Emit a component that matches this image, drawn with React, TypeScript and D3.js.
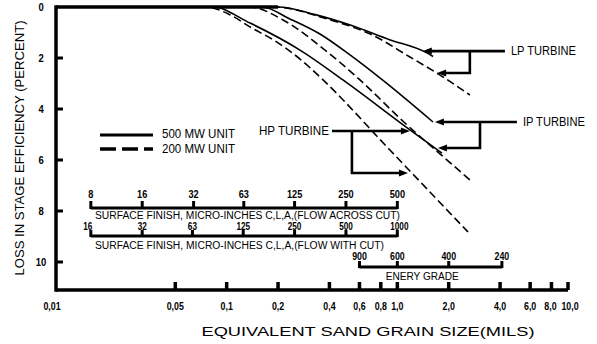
import React from "react";
import * as d3 from "d3";

type Pt = [number, number];

// ---- axis ticks & labels ----
const lossTicks = [0, 2, 4, 6, 8, 10];
const lossTickLabels = ["0", "2", "4", "6", "8", "10"];
const sizeTicks = [0.05, 0.1, 0.2, 0.4, 0.6, 0.8, 1.0, 2.0, 4.0, 6.0, 8.0, 10.0];
const sizeLabelValues = [0.01, 0.05, 0.1, 0.2, 0.4, 0.6, 0.8, 1.0, 2.0, 4.0, 6.0, 8.0, 10.0];
const sizeLabelTexts = ["0,01", "0,05", "0,1", "0,2", "0,4", "0,6", "0,8", "1,0", "2,0", "4,0", "6,0", "8,0", "10,0"];

// ---- auxiliary scales ----
const finishAcross = [8, 16, 32, 63, 125, 250, 500]; // micro-inches, mils = Ra/500
const finishWith = [16, 32, 63, 125, 250, 500, 1000]; // micro-inches, mils = Ra/1000
const emeryGrades = ["900", "600", "400", "240"];
const emeryGradeMils = [0.6, 1.0, 2.0, 4.1];

// ---- curves: [grain size (mils), loss (%)] ----
const lp500: Pt[] = [[0.01, 0], [0.2, 0], [0.33, 0.3], [0.53, 0.71], [0.9, 1.28], [1.45, 1.76], [1.62, 1.94]];
const lp200: Pt[] = [[0.01, 0], [0.19, 0], [0.4, 0.5], [0.69, 1.05], [1.185, 1.96], [1.78, 2.67], [2.66, 3.45]];
const ip500: Pt[] = [[0.01, 0], [0.161, 0], [0.235, 0.47], [0.352, 1.06], [0.528, 1.88], [0.846, 2.94], [1.617, 4.51]];
const ip200: Pt[] = [[0.01, 0], [0.137, 0], [0.214, 0.51], [0.377, 1.69], [0.604, 2.86], [1.108, 4.55], [1.729, 5.69], [2.663, 6.78]];
const hp500: Pt[] = [[0.01, 0], [0.083, 0], [0.137, 0.63], [0.269, 1.69], [0.48, 2.86], [1.185, 4.82], [1.825, 5.73]];
const hp200: Pt[] = [[0.01, 0], [0.075, 0], [0.105, 0.31], [0.137, 0.78], [0.192, 1.33], [0.269, 2.04], [0.367, 2.86], [0.905, 5.61], [2.592, 8.82]];

const solidSeries = [lp500, ip500, hp500];
const dashedSeries = [lp200, ip200, hp200];

// ---- annotations (positions in data units) ----
const annLabels = ["LP TURBINE", "IP TURBINE", "HP TURBINE"];
const annTips: Pt[][] = [
  [[1.41, 1.73], [1.71, 2.59]],
  [[1.66, 4.51], [1.73, 5.53]],
  [[1.185, 4.86], [1.154, 6.51]],
];
const annElbow = [2.66, 3.05, 0.542];
const annLineEnd = [4.27, 5.02, 0.414];
const annLabelLen = [65, 62, 70];

const legendLabels = ["500 MW UNIT", "200 MW UNIT"];

const FONT = "'Liberation Sans', Arial, Helvetica, sans-serif";
const W = 597;
const H = 344;

export default function App() {
  const x = d3.scaleLog().domain([0.01, 10]).range([56, 568]);
  const y = d3.scaleLinear().domain([0, 10]).range([7, 262]);
  const yAxis = 290;
  const line = d3
    .line<Pt>()
    .x((d) => x(d[0]))
    .y((d) => y(d[1]))
    .curve(d3.curveMonotoneX);

  const arrow = (tx: number, ty: number, dir: number, key: string) => (
    <path
      key={key}
      d={`M${tx},${ty} L${tx + dir * 9},${ty - 3.5} L${tx + dir * 9},${ty + 3.5} Z`}
      fill="#000"
    />
  );

  const cText = (
    tx: number,
    ty: number,
    s: string,
    size: number,
    sx: number,
    key: string,
    weight: string = "bold",
    anchor: string = "middle"
  ) => (
    <text
      key={key}
      transform={`translate(${tx},${ty}) scale(${sx},1)`}
      textAnchor={anchor}
      dominantBaseline="central"
      fontSize={size}
      fontWeight={weight}
    >
      {s}
    </text>
  );

  const barAcrossY = 208;
  const barWithY = 236;
  const barEmeryY = 267;

  return (
    <svg
      width={W}
      height={H}
      style={{ position: "absolute", left: 0, top: 0, background: "#fff" }}
      fontFamily={FONT}
    >
      <rect x={0} y={0} width={W} height={H} fill="#fff" />

      {/* curves */}
      {solidSeries.map((s, i) => (
        <path key={"s" + i} d={line(s) || ""} fill="none" stroke="#000" strokeWidth={1.6} />
      ))}
      {dashedSeries.map((s, i) => (
        <path
          key={"d" + i}
          d={line(s) || ""}
          fill="none"
          stroke="#000"
          strokeWidth={1.6}
          strokeDasharray="8,4"
        />
      ))}

      {/* top thick zero line */}
      <line x1={x(0.01)} x2={x(0.2)} y1={y(0)} y2={y(0)} stroke="#000" strokeWidth={3.5} />

      {/* axes */}
      <line x1={x(0.01)} x2={x(0.01)} y1={y(0) - 1.7} y2={yAxis + 1.7} stroke="#000" strokeWidth={3.5} />
      <line x1={x(0.01)} x2={x(10)} y1={yAxis} y2={yAxis} stroke="#000" strokeWidth={3.5} />
      {lossTicks.slice(1).map((v) => (
        <line key={"yt" + v} x1={x(0.01)} x2={x(0.01) + 7} y1={y(v)} y2={y(v)} stroke="#000" strokeWidth={3} />
      ))}
      {lossTicks.map((v, i) => cText(41, y(v) + 0.5, lossTickLabels[i], 10.5, 0.9, "yl" + i))}
      {sizeTicks.map((v) => (
        <line key={"xt" + v} x1={x(v)} x2={x(v)} y1={yAxis} y2={yAxis - 8} stroke="#000" strokeWidth={3.5} />
      ))}
      {sizeLabelValues.map((v, i) =>
        cText(
          x(v) + (i === 0 ? -4 : i === sizeLabelValues.length - 1 ? 2 : i === sizeLabelValues.length - 2 ? -1 : 0),
          306.5,
          sizeLabelTexts[i],
          10.5,
          0.84,
          "xl" + i
        )
      )}

      {/* axis titles */}
      <text
        x={368}
        y={331}
        textAnchor="middle"
        dominantBaseline="central"
        fontSize={13.5}
        textLength={333}
        lengthAdjust="spacingAndGlyphs"
      >
        EQUIVALENT SAND GRAIN SIZE(MILS)
      </text>
      <text
        transform="translate(20,148) rotate(-90)"
        textAnchor="middle"
        dominantBaseline="central"
        fontSize={12}
        textLength={255}
        lengthAdjust="spacingAndGlyphs"
      >
        LOSS IN STAGE EFFICIENCY (PERCENT)
      </text>

      {/* legend */}
      <line x1={100} x2={153} y1={135} y2={135} stroke="#000" strokeWidth={3} />
      <line x1={100} x2={153} y1={149} y2={149} stroke="#000" strokeWidth={3.5} strokeDasharray="16,6" />
      {legendLabels.map((s, i) => (
        <text
          key={"lg" + i}
          x={162}
          y={133.5 + i * 14.5}
          dominantBaseline="central"
          fontSize={13}
          textLength={73}
          lengthAdjust="spacingAndGlyphs"
        >
          {s}
        </text>
      ))}

      {/* surface finish, flow across cut */}
      <line x1={x(finishAcross[0] / 500)} x2={x(finishAcross[finishAcross.length - 1] / 500)} y1={barAcrossY} y2={barAcrossY} stroke="#000" strokeWidth={3} />
      {finishAcross.map((v, i) => (
        <g key={"fa" + i}>
          <line x1={x(v / 500)} x2={x(v / 500)} y1={barAcrossY + 1} y2={barAcrossY - 7} stroke="#000" strokeWidth={3} />
          {cText(x(v / 500), 194, String(v), 11.5, 0.8, "fal" + i)}
        </g>
      ))}
      <text x={95} y={215} dominantBaseline="central" fontSize={10} textLength={305} lengthAdjust="spacingAndGlyphs">
        SURFACE FINISH, MICRO-INCHES C,L,A,(FLOW ACROSS CUT)
      </text>

      {/* surface finish, flow with cut */}
      <line x1={x(finishWith[0] / 1000)} x2={x(finishWith[finishWith.length - 1] / 1000)} y1={barWithY} y2={barWithY} stroke="#000" strokeWidth={3} />
      {finishWith.map((v, i) => (
        <g key={"fw" + i}>
          <line x1={x(v / 1000)} x2={x(v / 1000)} y1={barWithY + 1} y2={barWithY - 6} stroke="#000" strokeWidth={3} />
          {cText(x(v / 1000) + (i === 0 ? -3 : i === finishWith.length - 1 ? 2 : 0), 226, String(v), 10.5, 0.78, "fwl" + i)}
        </g>
      ))}
      <text x={95} y={245} dominantBaseline="central" fontSize={10} textLength={289} lengthAdjust="spacingAndGlyphs">
        SURFACE FINISH, MICRO-INCHES C,L,A,(FLOW WITH CUT)
      </text>

      {/* emery grade */}
      <line x1={x(emeryGradeMils[0])} x2={x(emeryGradeMils[emeryGradeMils.length - 1])} y1={barEmeryY} y2={barEmeryY} stroke="#000" strokeWidth={3} />
      {emeryGradeMils.map((v, i) => (
        <g key={"eg" + i}>
          <line x1={x(v)} x2={x(v)} y1={barEmeryY + 1} y2={barEmeryY - 6} stroke="#000" strokeWidth={3} />
          {cText(x(v), 256, emeryGrades[i], 11, 0.8, "egl" + i)}
        </g>
      ))}
      <text x={x(1.4)} y={276} textAnchor="middle" dominantBaseline="central" fontSize={10.5} textLength={73} lengthAdjust="spacingAndGlyphs">
        ENERY GRADE
      </text>

      {/* turbine annotations */}
      {annLabels.map((lab, i) => {
        const [t1, t2] = annTips[i];
        const x1 = x(t1[0]);
        const y1 = y(t1[1]);
        const x2 = x(t2[0]);
        const y2 = y(t2[1]);
        const ex = x(annElbow[i]);
        const le = x(annLineEnd[i]);
        const right = le > x1;
        const dir = right ? 1 : -1;
        return (
          <g key={"ann" + i}>
            <line x1={x1 + dir * 6} x2={le} y1={y1} y2={y1} stroke="#000" strokeWidth={2.6} />
            <path
              d={`M${ex},${y1} L${ex},${y2} L${x2 + dir * 6},${y2}`}
              fill="none"
              stroke="#000"
              strokeWidth={2.6}
              strokeLinejoin="miter"
            />
            {arrow(x1, y1, dir, "a1")}
            {arrow(x2, y2, dir, "a2")}
            <text
              x={right ? le + 6 : le - 3}
              y={y1}
              textAnchor={right ? "start" : "end"}
              dominantBaseline="central"
              fontSize={12.5}
              textLength={annLabelLen[i]}
              lengthAdjust="spacingAndGlyphs"
            >
              {lab}
            </text>
          </g>
        );
      })}
    </svg>
  );
}
